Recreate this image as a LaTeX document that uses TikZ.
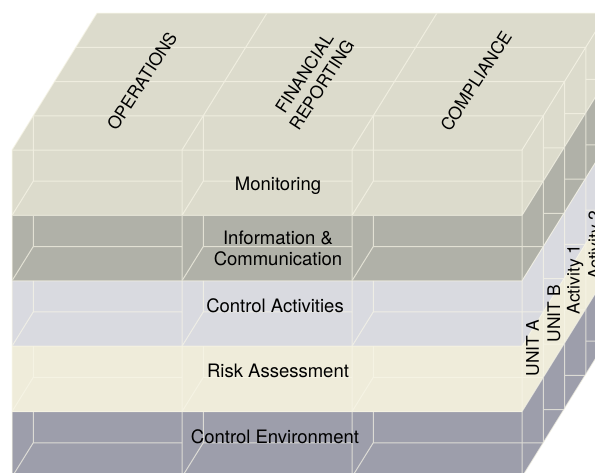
\documentclass[tikz,border=0pt]{standalone}
\usepackage{fontspec}
\setmainfont{TeX Gyre Heros}
\definecolor{monitor}{HTML}{DCDBCC}
\definecolor{infocom}{HTML}{B0B1A8}
\definecolor{ctrlact}{HTML}{D9DAE0}
\definecolor{riskas}{HTML}{EFECDA}
\definecolor{ctrlenv}{HTML}{9D9EAB}
\definecolor{gridln}{HTML}{F8F6E8}
\tikzset{
  frontlbl/.style={font=\fontsize{18.5}{21}\selectfont, inner sep=0pt},
  toplbl/.style={font=\fontsize{17.4}{20.8}\selectfont, rotate=57, align=center, inner sep=0pt},
  sidelbl/.style={font=\fontsize{17.4}{20.8}\selectfont, rotate=90, inner sep=0pt},
  edge/.style={draw=gridln, line width=1pt}
}
\begin{document}
\begin{tikzpicture}[x=1pt, y=-1pt]
\useasboundingbox (0,0) rectangle (595,472);
\clip (0,0) rectangle (595,472);
% the five layers, front and right side
\foreach \col [count=\j from 0] in {monitor,infocom,ctrlact,riskas,ctrlenv} {
  \pgfmathsetmacro{\ya}{150+65.4*\j}
  \pgfmathsetmacro{\yb}{\ya+65.4}
  \fill[\col] (12,\ya) rectangle (522,\yb);
  \fill[\col] (522,\ya) -- (607,\ya-137) -- (607,\yb-137) -- (522,\yb) -- cycle;
}
% top face
\fill[monitor] (12,150) -- (522,150) -- (607,13) -- (97,13) -- cycle;

\begin{scope}[transparency group, opacity=0.7]
% front face grid
\foreach \j in {0,...,5} \draw[edge] (12,150+65.4*\j) -- (522,150+65.4*\j);
\foreach \x in {12,182,352,522} \draw[edge] (\x,150) -- (\x,477);
% hidden edges of the front boxes
\foreach \j in {0,...,4} \foreach \c in {0,1,2} {
  \pgfmathsetmacro{\xa}{12+170*\c}
  \pgfmathsetmacro{\ya}{150+65.4*\j}
  \pgfmathsetmacro{\xe}{ifthenelse(\c==2,21.25,0)}
  \draw[edge] (\xa+21.25,\ya) -- (\xa+21.25,\ya+31.15) -- (\xa+170+\xe,\ya+31.15);
  \draw[edge] (\xa,\ya+65.4) -- (\xa+21.25,\ya+31.15);
}
\foreach \c in {0,1,2} \draw[edge] (33.25+170*\c,115.75) -- (33.25+170*\c,150);
% top face grid
\foreach \k in {1,...,4} \draw[edge] (12+21.25*\k,150-34.25*\k) -- (522+21.25*\k,150-34.25*\k);
\foreach \x in {12,182,352,522} \draw[edge] (\x,150) -- (\x+85,13);
% right face grid
\foreach \k in {1,...,4} \draw[edge] (522+21.25*\k,150-34.25*\k) -- (522+21.25*\k,477-34.25*\k);
\foreach \j in {1,...,5} \draw[edge] (522,150+65.4*\j) -- (607,13+65.4*\j);
\foreach \j in {1,...,5} \foreach \k in {1,2,3}
  \draw[edge] (522+21.25*\k,116.75+65.4*\j-34.25*\k) -- ++(21.25,0);
\end{scope}

% labels
\node[toplbl] (oper) at (142,81) {OPERATIONS};
\node[toplbl] (finrep) at (313,79) {FINANCIAL\\REPORTING};
\node[toplbl] (compl) at (476,81) {COMPLIANCE};
\node[frontlbl] (monit) at (278,186) {Monitoring};
\node[frontlbl, align=center] (infcom) at (278,248) {Information \&\\Communication};
\node[frontlbl] (ctrla) at (275,306) {Control Activities};
\node[frontlbl] (riska) at (278,371) {Risk Assessment};
\node[frontlbl] (ctrle) at (275,437) {Control Environment};
\foreach \lbl [count=\k from 0] in {UNIT A,UNIT B,Activity 1,Activity 2}
  \node[sidelbl] (side\k) at (532.6+21.25*\k,348-34.25*\k) {\lbl};
\end{tikzpicture}
\end{document}
